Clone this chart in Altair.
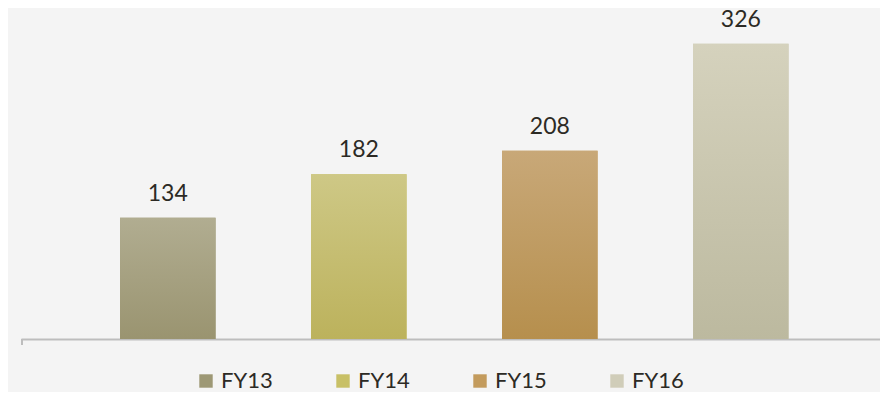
import altair as alt
import pandas as pd

categories = ["FY13", "FY14", "FY15", "FY16"]
values = [134, 182, 208, 326]
legend_colors = ["#9d9875", "#c8c066", "#c39b5d", "#d0cdb9"]
grad_top = ["#b1ad91", "#cec886", "#c8a878", "#d5d2bd"]
grad_bottom = ["#9a9470", "#bcb25c", "#b68f4d", "#bcb99f"]

df = pd.DataFrame({"cat": categories, "val": values})

FONT = "Lato"
TXT = "#2c2a24"

xenc = alt.X("cat:N", sort=categories,
             scale=alt.Scale(paddingInner=0.5, paddingOuter=0.4986, align=0.52),
             axis=alt.Axis(labels=False, ticks=False, title=None,
                           domainColor="#bdbdbd", domainWidth=2))
yenc = alt.Y("val:Q", scale=alt.Scale(domain=[0, 360]), axis=None)

base = alt.Chart(df)

legend_bars = base.mark_bar().encode(
    x=xenc, y=yenc,
    color=alt.Color("cat:N", sort=categories,
                    scale=alt.Scale(domain=categories, range=legend_colors),
                    legend=alt.Legend(title=None, orient="none", legendX=174, legendY=357,
                                      direction="horizontal", symbolType="square",
                                      symbolSize=180, symbolStrokeWidth=0,
                                      labelFontSize=22, labelFont=FONT, labelColor=TXT,
                                      columnPadding=59, labelOffset=4)),
)

layers = [legend_bars]
for c, t, b in zip(categories, grad_top, grad_bottom):
    g = alt.Gradient(gradient="linear",
                     stops=[alt.GradientStop(color=t, offset=0),
                            alt.GradientStop(color=b, offset=1)],
                     x1=1, x2=1, y1=0, y2=1)
    layers.append(base.transform_filter(alt.datum.cat == c)
                  .mark_bar(color=g).encode(x=xenc, y=yenc))

labels = base.mark_text(dy=-17, baseline="alphabetic", fontSize=23, font=FONT,
                        color=TXT).encode(x=xenc, y=yenc, text=alt.Text("val:Q"))

tick = base.mark_rule(color="#bdbdbd", strokeWidth=2).encode(
    x=alt.value(1), y=alt.value(326), y2=alt.value(332))

chart = alt.layer(*layers, labels, tick).properties(
    width=859, height=326,
    autosize=alt.AutoSizeParams(type="none"),
    padding={"left": 13, "top": 5, "right": 0, "bottom": 53},
    background="#f4f4f4",
).configure_view(stroke=None)

chart.save("out.html", embed_options={"renderer": "svg", "actions": False})
